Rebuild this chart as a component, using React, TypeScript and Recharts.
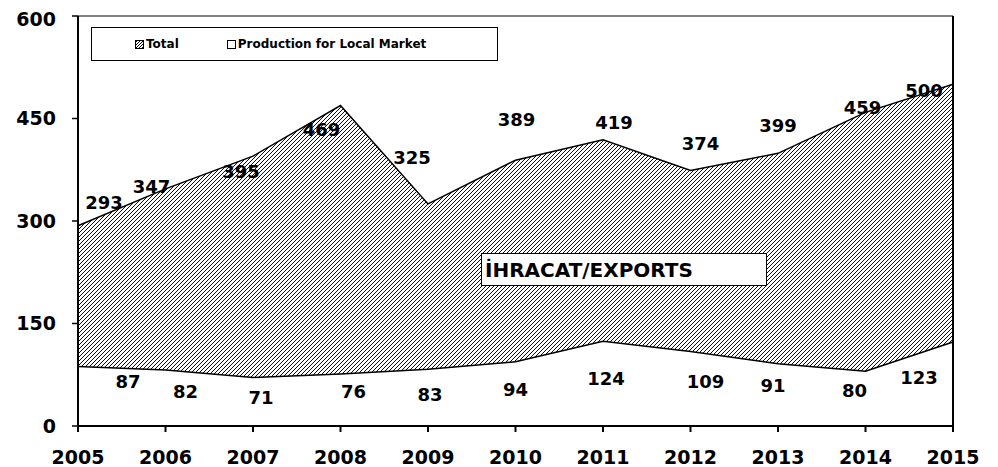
import React from "react";
import {
  AreaChart,
  Area,
  XAxis,
  YAxis,
  ReferenceLine,
  LabelList,
} from "recharts";

const years = [2005, 2006, 2007, 2008, 2009, 2010, 2011, 2012, 2013, 2014, 2015];
const totalValues = [293, 347, 395, 469, 325, 389, 419, 374, 399, 459, 500];
const localValues = [87, 82, 71, 76, 83, 94, 124, 109, 91, 80, 123];
const yTicks = [0, 150, 300, 450, 600];

// label nudges (dx, dy) so the numbers sit where the original put them
const totalNudge = [
  [26, -23], [-14, -2], [-12, 15], [-19, 24], [-16, -46], [1, -41],
  [11, -17], [10, -27], [0, -28], [-3, -5], [-29, 6],
];
const localNudge = [
  [50, 15], [20, 22], [8, 20], [13, 17], [2, 25], [0, 28],
  [3, 37], [15, 30], [-5, 22], [-11, 19], [-34, 36],
];

const data = years.map((year, i) => ({
  year,
  total: totalValues[i],
  local: localValues[i],
}));

const FONT = "'DejaVu Sans', Verdana, sans-serif";

function makeLabel(nudge: number[][]) {
  return (props: any) => {
    const x = props.x ?? props.viewBox?.x;
    const y = props.y ?? props.viewBox?.y;
    const i = props.index ?? 0;
    if (x == null || y == null) return null;
    const [dx, dy] = nudge[i] || [0, 0];
    return (
      <text
        x={x + dx}
        y={y + dy}
        textAnchor="middle"
        dominantBaseline="central"
        fontSize={18}
        fontWeight="bold"
        fontFamily={FONT}
        fill="#000"
      >
        {props.value}
      </text>
    );
  };
}

function HatchIcon({ hatched }: { hatched: boolean }) {
  return (
    <svg width={9} height={9} style={{ display: "block" }}>
      <defs>
        <pattern id="legHatch" width="3" height="3" patternUnits="userSpaceOnUse">
          <rect width="3" height="3" fill="#fff" />
          <path d="M0,3 L3,0" stroke="#000" strokeWidth="1" />
        </pattern>
      </defs>
      <rect x={0.5} y={0.5} width={8} height={8} fill={hatched ? "url(#legHatch)" : "#fff"} stroke="#000" strokeWidth={1} />
    </svg>
  );
}

export default function App() {
  const tickStyle = { fontSize: 19, fontWeight: "bold" as const, fontFamily: FONT, fill: "#000" };
  return (
    <div style={{ position: "relative", width: 982, height: 459, background: "#fff" }}>
      <AreaChart width={982} height={459} data={data} margin={{ top: 8, right: 37, left: 0, bottom: 1 }}>
        <defs>
          <pattern id="hatch" width="4" height="4" patternUnits="userSpaceOnUse">
            <rect width="4" height="4" fill="#fff" />
            <path d="M-1,1 L1,-1 M0,4 L4,0 M3,5 L5,3" stroke="#000" strokeWidth="0.95" />
          </pattern>
        </defs>
        <XAxis
          dataKey="year"
          type="number"
          domain={[2005, 2015]}
          ticks={years}
          height={40}
          tick={tickStyle}
          tickSize={6}
          tickMargin={19}
          axisLine={{ stroke: "#000", strokeWidth: 2 }}
          tickLine={{ stroke: "#000", strokeWidth: 2 }}
        />
        <YAxis
          domain={[0, 600]}
          ticks={yTicks}
          width={70}
          tick={tickStyle}
          tickSize={6}
          tickMargin={16}
          axisLine={{ stroke: "#000", strokeWidth: 2 }}
          tickLine={{ stroke: "#000", strokeWidth: 1.5 }}
        />
        <ReferenceLine y={600} stroke="#000" strokeWidth={1} />
        <ReferenceLine x={2015} stroke="#000" strokeWidth={2} />
        <Area
          type="linear"
          dataKey="total"
          stroke="#000"
          strokeWidth={1.5}
          fill="url(#hatch)"
          fillOpacity={1}
          isAnimationActive={false}
          dot={false}
          activeDot={false}
        >
          <LabelList dataKey="total" content={makeLabel(totalNudge)} />
        </Area>
        <Area
          type="linear"
          dataKey="local"
          stroke="#000"
          strokeWidth={1.5}
          fill="#fff"
          fillOpacity={1}
          isAnimationActive={false}
          dot={false}
          activeDot={false}
        >
          <LabelList dataKey="local" content={makeLabel(localNudge)} />
        </Area>
      </AreaChart>

      <div
        style={{
          position: "absolute",
          left: 83,
          top: 19,
          width: 407,
          height: 34,
          boxSizing: "border-box",
          border: "1.5px solid #000",
          background: "#fff",
          display: "flex",
          alignItems: "center",
          fontFamily: FONT,
          fontSize: 12,
          fontWeight: "bold",
          color: "#000",
        }}
      >
        <div style={{ marginLeft: 43, display: "flex", alignItems: "center" }}>
          <HatchIcon hatched={true} />
          <span style={{ marginLeft: 2 }}>Total</span>
        </div>
        <div style={{ marginLeft: 48, display: "flex", alignItems: "center" }}>
          <HatchIcon hatched={false} />
          <span style={{ marginLeft: 2 }}>Production for Local Market</span>
        </div>
      </div>

      <div
        style={{
          position: "absolute",
          left: 473,
          top: 245,
          width: 286,
          height: 33,
          boxSizing: "border-box",
          border: "1.5px solid #000",
          background: "#fff",
          display: "flex",
          alignItems: "center",
          paddingLeft: 3,
          fontFamily: FONT,
          fontSize: 20,
          fontWeight: "bold",
          color: "#000",
        }}
      >
        İHRACAT/EXPORTS
      </div>
    </div>
  );
}
